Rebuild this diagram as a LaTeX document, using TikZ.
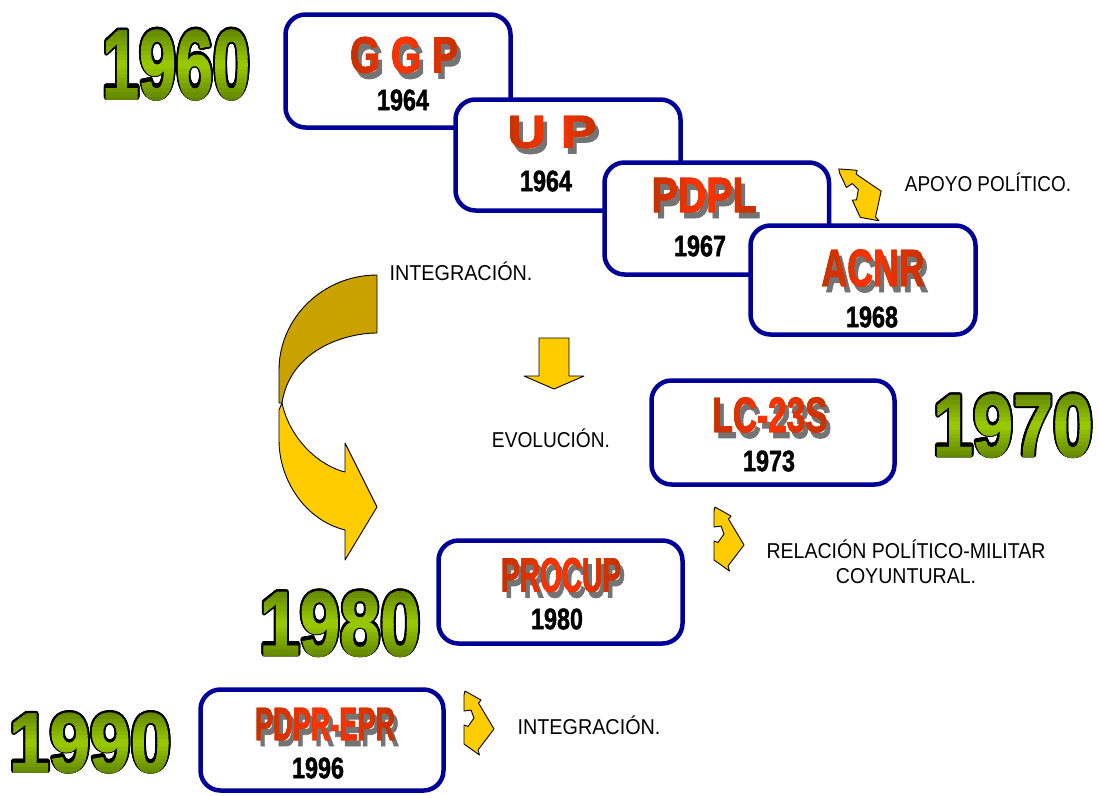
\documentclass[tikz,border=0pt]{standalone}
\usepackage{fontspec}
\setmainfont{Liberation Sans}[BoldFeatures={FakeBold=1.6}]
\usepackage[copies]{contour}
\contourlength{1.1pt}
\definecolor{navy}{HTML}{000099}
\definecolor{rbright}{HTML}{FF3300}
\definecolor{rdark}{HTML}{C83200}
\definecolor{shdgray}{HTML}{747474}
\definecolor{ybright}{HTML}{9ACC00}
\definecolor{ydark}{HTML}{557500}
\definecolor{gold}{HTML}{FFCC00}
\definecolor{darkgold}{HTML}{C9A200}
\tikzset{
  boxst/.style={draw=navy, line width=4.5pt, fill=white, rounded corners=20pt},
  redt/.style={inner sep=0pt, text=rdark, font=\bfseries},
  shdt/.style={inner sep=0pt, text=shdgray, font=\bfseries},
  yrin/.style={inner sep=0pt, text=black, font=\bfseries},
  bigyr/.style={inner sep=0pt, font=\fontsize{40}{40}\bfseries\selectfont},
  lbl/.style={inner sep=0pt, anchor=base, font=\fontsize{21.5}{24}\selectfont},
  arrst/.style={draw=black, line width=0.9pt, fill=gold, line join=round},
  zz/.pic={\path[arrst] (-14,-32) -- (2,-23) -- (-0.5,-20) -- (15,6) -- (-1,27) -- (0.5,32) -- (-15,21) -- (-15,2) -- (-11,3.5) -- (-5,-5) -- (-8,-13) -- (-15,-12) -- (-15,-28) -- cycle;}
}
% title: name x y w h text
\newcommand\ttl[6]{%
  \node[shdt] (#1s) at ({#2+4},{#3+6}) {\resizebox*{#4pt}{#5pt}{#6}};
  \node[redt] (#1) at (#2,#3) {\resizebox*{#4pt}{#5pt}{#6}};
  \foreach \i in {0,...,11}{%
    \pgfmathsetmacro\pp{100-abs(\i-5.5)/5.5*100}%
    \begin{scope}
      \clip ({#2-#4/2-2+\i*(#4+4)/12}, {#3-#5/2-3}) rectangle ({#2-#4/2-2+(\i+1)*(#4+4)/12+0.3}, {#3+#5/2+3});
      \node[redt, text=rbright!\pp!rdark] at (#2,#3) {\resizebox*{#4pt}{#5pt}{#6}};
    \end{scope}}}
\newcommand\yrin[4]{\node[yrin] (#1) at (#2,#3) {\resizebox*{52pt}{21pt}{#4}};}
% big year: name x y w h text
\newcommand\bigyr[6]{%
  \node[bigyr] (#1) at (#2,#3) {\resizebox*{#4pt}{#5pt}{\contour{black}{#6}}};
  \foreach \i in {0,...,15}{%
    \pgfmathsetmacro\pp{100-abs(\i-7.5)/7.5*100*0.8}%
    \begin{scope}
      \clip ({#2-#4/2-6}, {#3-#5/2-2+\i*(#5+4)/16}) rectangle ({#2+#4/2+6}, {#3-#5/2-2+(\i+1)*(#5+4)/16+0.3});
      \node[bigyr, text=ybright!\pp!ydark] at (#2,#3) {\resizebox*{#4pt}{#5pt}{#6}};
    \end{scope}}}
\begin{document}
\begin{tikzpicture}[x=1pt,y=-1pt]
\useasboundingbox[fill=white] (0,0) rectangle (1099,795);

% boxes (stacked)
\path[boxst] (285.5,14.5) rectangle (510.5,127.5);
\ttl{ggp}{404}{55}{108}{36}{G G P}
\yrin{ggpy}{403}{100}{1964}
\path[boxst] (455.5,99.5) rectangle (680.5,210.5);
\ttl{up}{552}{132}{89}{32}{U P}
\yrin{upy}{546}{181}{1964}
\path[boxst] (604.5,162.5) rectangle (829,274.5);
\ttl{pdpl}{704}{195}{105}{34}{PDPL}
\yrin{pdply}{700}{246}{1967}
\path[boxst] (750.5,225.5) rectangle (975.5,334.5);
\ttl{acnr}{873}{268}{103}{37}{ACNR}
\yrin{acnry}{872}{317}{1968}
\path[boxst] (651.5,380.5) rectangle (894.5,484.5);
\ttl{lc}{770}{415}{115}{35}{LC-23S}
\yrin{lcy}{769}{461}{1973}
\path[boxst] (438.5,540.5) rectangle (682.5,643.5);
\ttl{procup}{561}{575}{120}{34}{PROCUP}
\yrin{procupy}{557}{619}{1980}
\path[boxst] (200.5,689.5) rectangle (443.5,790.5);
\ttl{pdpr}{325}{724}{140}{32}{PDPR-EPR}
\yrin{pdpry}{318}{768}{1996}

% big decade labels
\bigyr{y60}{176}{65}{148}{70}{1960}
\bigyr{y70}{1013}{426}{160}{63}{1970}
\bigyr{y80}{340}{624}{161}{65}{1980}
\bigyr{y90}{90}{743}{162}{60}{1990}

% curved arrow
\path[arrst, fill=darkgold] (377,275) .. controls (323,275) and (279,318) .. (279,370) -- (279,403) -- (282,403) .. controls (290,350) and (345,333) .. (377,333) -- cycle;
\path[arrst] (282,403) -- (279,410) -- (279,440) .. controls (279,480) and (305,520) .. (345,530) -- (345,560) -- (377,507) -- (345,443) -- (345,472) .. controls (320,466) and (290,440) .. (282,403) -- cycle;

% down arrow
\path[arrst] (539,338) -- (569,338) -- (569,376) -- (584,376) -- (554,389) -- (524,376) -- (539,376) -- cycle;

% zigzag arrows
\pic[rotate=25] at (865,192) {zz};
\pic at (729,539) {zz};
\pic at (479,723) {zz};

% labels
\node[lbl] (l1) at (988,191) {\scalebox{0.88}[1]{APOYO POLÍTICO.}};
\node[lbl] (l2) at (461,280) {\scalebox{0.92}[1]{INTEGRACIÓN.}};
\node[lbl] (l3) at (551,447) {\scalebox{0.89}[1]{EVOLUCIÓN.}};
\node[lbl] (l4) at (906,558) {\scalebox{0.91}[1]{RELACIÓN POLÍTICO-MILITAR}};
\node[lbl] (l5) at (906,583) {\scalebox{0.91}[1]{COYUNTURAL.}};
\node[lbl] (l6) at (589,734) {\scalebox{0.92}[1]{INTEGRACIÓN.}};
\end{tikzpicture}
\end{document}
